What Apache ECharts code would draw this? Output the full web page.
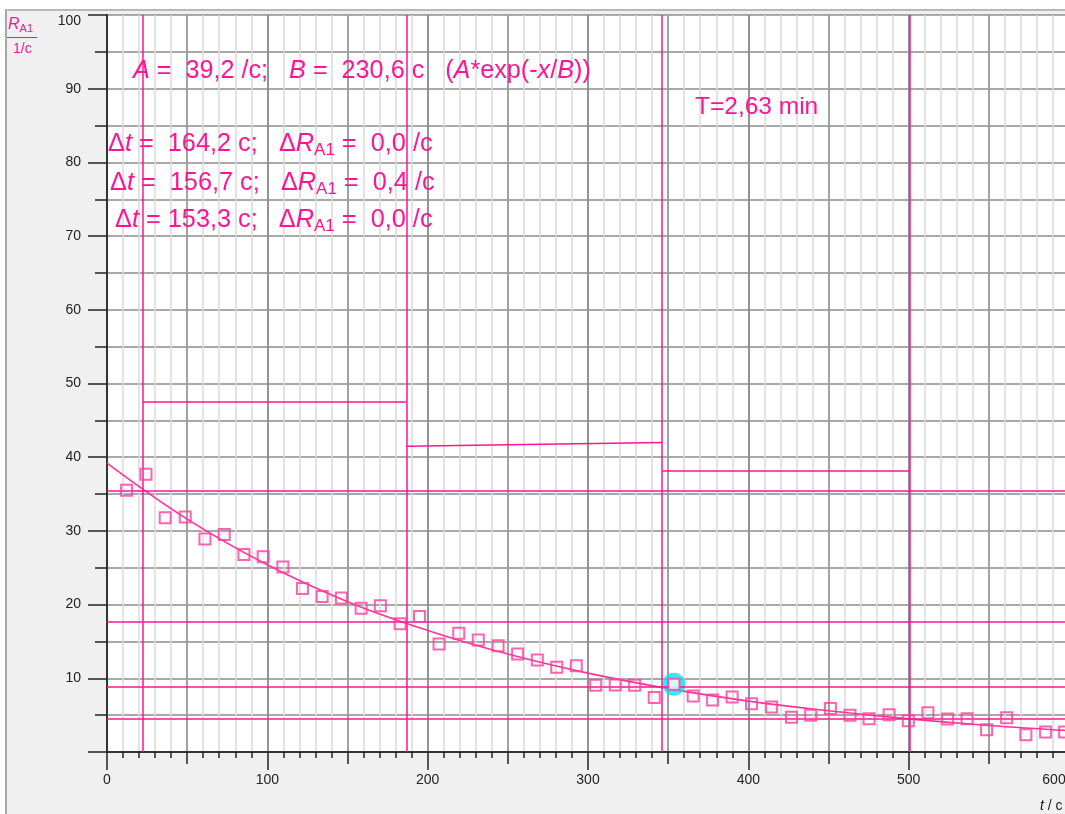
<!DOCTYPE html>
<html><head><meta charset="utf-8">
<script src="https://cdn.jsdelivr.net/npm/echarts@6/dist/echarts.min.js"></script>
<style>
html,body{margin:0;padding:0;overflow:hidden;background:#fff;width:1065px;height:814px;}
#frame{position:absolute;left:5px;top:9px;width:1100px;height:900px;background:#f0f0f0;border-left:2px solid #a8a8a8;border-top:2px solid #b8b8b8;}
#chart{position:absolute;left:0;top:0;width:1080px;height:814px;}
</style></head><body>
<div id="frame"></div><div id="chart"></div>
<script>
// measured data points (t / c, R_A1 / 1/c)
const times = [12.2,24.3,36.3,48.8,61.1,73.1,85.4,97.4,109.7,121.9,134.2,146.2,158.5,170.5,182.8,194.9,207.1,219.4,231.6,243.9,256.1,268.4,280.5,292.7,304.8,317.0,329.1,341.3,353.6,365.6,377.7,389.9,402.0,414.5,426.9,438.9,451.2,463.4,475.3,487.8,499.8,512.0,524.3,536.4,548.6,561.1,573.1,585.4,597.3];
const rates = [35.5,37.7,31.8,31.9,28.9,29.5,26.8,26.5,25.1,22.2,21.1,20.9,19.5,19.85,17.4,18.4,14.65,16.1,15.2,14.4,13.3,12.5,11.5,11.7,9.05,9.1,9.05,7.4,9.2,7.6,7.05,7.46,6.55,6.1,4.7,5.0,5.9,5.0,4.5,5.06,4.25,5.33,4.48,4.52,3.03,4.65,2.35,2.7,2.7];
// fit curve
const fitTimes = [0,50,100,150,200,250,300,350,400,450,500,550,600];
const fitRates = [39.2,31.6,25.4,20.4,16.5,13.3,10.7,8.6,6.9,5.6,4.5,3.6,2.9];
// cursor lines
const cursorTimes = [22.5,186.7,346.3,500.5];
const stepStartT = [22.5,186.7,346.3];
const stepEndT = [186.7,346.3,500.5];
const stepStartR = [47.5,41.5,38.1];
const stepEndR = [47.5,42.0,38.1];
const halfLevels = [35.4,17.7,8.85,4.45];
const highlightIndex = 28;
// text
const fitText = '{i|A} =  39,2 /c;   {i|B} =  230,6 c   ({i|A}*exp(-{i|x}/{i|B}))';
const periodText = 'T=2,63 min';
const deltaTexts = [
  'Δ{i|t} =  164,2 c;   Δ{i|R}{sub|A1} =  0,0 /c',
  'Δ{i|t} =  156,7 c;   Δ{i|R}{sub|A1} =  0,4 /c',
  'Δ{i|t} = 153,3 c;   Δ{i|R}{sub|A1} =  0,0 /c'
];

const PINK = '#ff1493';
const FONT = 'Liberation Sans';
const DARK = '#8c8c8c', LIGHT = '#dadada';
function rich(fs){
  return {
    i: {fontStyle:'italic', fontSize:fs, fontFamily:FONT, fill:PINK, lineHeight:30},
    sub: {fontSize:17, fontFamily:FONT, fill:PINK, verticalAlign:'bottom', lineHeight:18}
  };
}
function txt(text, x, y, fs){
  return {type:'text', x:x, y:y, z:50, silent:true,
    style:{text:text, fill:PINK, fontSize:fs, fontFamily:FONT, verticalAlign:'middle', align:'left', lineHeight:30, rich:rich(fs)}};
}

const chart = echarts.init(document.getElementById('chart'), null, {renderer:'canvas'});
const gridH = 752 - 15;
const markData = [];
cursorTimes.forEach(t => markData.push({xAxis:t}));
halfLevels.forEach(r => markData.push({yAxis:r}));
stepStartT.forEach((t,i) => markData.push([{coord:[t, stepStartR[i]]},{coord:[stepEndT[i], stepEndR[i]]}]));

const option = {
  animation:false,
  backgroundColor:'transparent',
  grid:{left:107, top:15, right:11, bottom:62, show:true, backgroundColor:'#fff', borderWidth:0, outerBoundsMode:'none'},
  xAxis:[{
    type:'value', position:'bottom', min:0, max:600, interval:100,
    axisLine:{show:true, onZero:false, lineStyle:{color:'#333', width:2}},
    axisTick:{show:true, length:18, lineStyle:{color:'#222', width:1.5}},
    minorTick:{show:true, splitNumber:10, length:6, lineStyle:{color:'#222', width:1.5}},
    axisLabel:{show:true, margin:21, color:'#222', fontSize:14, fontFamily:FONT,
      formatter:v => v === 600 ? '{r|600}' : String(v),
      rich:{r:{fontSize:14, fontFamily:FONT, color:'#222', padding:[0,30,0,0]}}},
    splitLine:{show:true, lineStyle:{color:DARK, width:1.5}},
    minorSplitLine:{show:true, lineStyle:{color:LIGHT, width:1.5}}
  },{
    type:'value', position:'top', offset:-gridH, min:0, max:600, interval:50,
    axisLine:{show:false},
    axisTick:{show:true, inside:true, length:12, lineStyle:{color:'#222', width:1.5}},
    axisLabel:{show:false},
    splitLine:{show:true, lineStyle:{color:DARK, width:1.5}}
  }],
  yAxis:{
    type:'value', min:0, max:100, interval:10,
    axisLine:{show:true, onZero:false, lineStyle:{color:'#333', width:2}},
    axisTick:{show:true, length:19, lineStyle:{color:'#222', width:1.5}},
    minorTick:{show:true, splitNumber:2, length:12, lineStyle:{color:'#222', width:1.5}},
    axisLabel:{show:true, margin:26, color:'#222', fontSize:14, fontFamily:FONT,
      formatter:v => v === 0 ? '' : (v === 100 ? '{t|100}' : String(v)),
      rich:{t:{fontSize:14, fontFamily:FONT, color:'#222', padding:[12,0,0,0]}}},
    splitLine:{show:true, lineStyle:{color:DARK, width:1.5}},
    minorSplitLine:{show:true, lineStyle:{color:DARK, width:1.5}}
  },
  series:[{
    type:'line', name:'fit', data:fitTimes.map((t,i)=>[t, fitRates[i]]),
    smooth:0.4, showSymbol:false, symbol:'none', clip:true, z:3,
    lineStyle:{color:'#ff3399', width:1.6},
    markLine:{silent:true, symbol:['none','none'], label:{show:false}, animation:false,
      lineStyle:{color:PINK, width:1.5, type:'solid'}, emphasis:{disabled:true}, data:markData}
  },{
    type:'scatter', name:'cursor', data:[[times[highlightIndex], rates[highlightIndex]]],
    symbol:'circle', symbolSize:23, z:4, silent:true,
    itemStyle:{color:'#00e3f0'}
  },{
    type:'scatter', name:'data',
    data:times.map((t,i)=> i === highlightIndex ? {value:[t, rates[i]], itemStyle:{color:'#ffffff'}} : [t, rates[i]]),
    symbol:'rect', symbolSize:11, z:5, silent:true, clip:false,
    itemStyle:{color:'rgba(255,255,255,0)', borderColor:'#ff3d9e', borderWidth:2}
  }],
  graphic:[
    txt(fitText, 133, 71, 25.2),
    txt(periodText, 695, 107, 24.5),
    txt(deltaTexts[0], 108, 144, 25.3),
    txt(deltaTexts[1], 110, 183, 25.3),
    txt(deltaTexts[2], 115, 220, 25.3),
    {type:'text', x:8, y:25, silent:true, style:{text:'{r|R}{s|A1}', verticalAlign:'middle', align:'left', rich:{
      r:{fontStyle:'italic', fontSize:16, fontFamily:FONT, fill:PINK, lineHeight:18},
      s:{fontSize:11, fontFamily:FONT, fill:PINK, verticalAlign:'bottom', lineHeight:11}}}},
    {type:'line', silent:true, shape:{x1:7, y1:37.5, x2:37, y2:37.5}, style:{stroke:PINK, lineWidth:1}},
    {type:'text', x:13, y:49, silent:true, style:{text:'1/c', fill:PINK, fontSize:14, fontFamily:FONT, verticalAlign:'middle', align:'left'}},
    {type:'text', x:1040, y:806, silent:true, style:{text:'{i|t} / c', fill:'#222', fontSize:14, fontFamily:FONT, verticalAlign:'middle', align:'left',
      rich:{i:{fontStyle:'italic', fontSize:14, fontFamily:FONT, fill:'#222'}}}}
  ]
};
chart.setOption(option);
</script>
</body></html>
